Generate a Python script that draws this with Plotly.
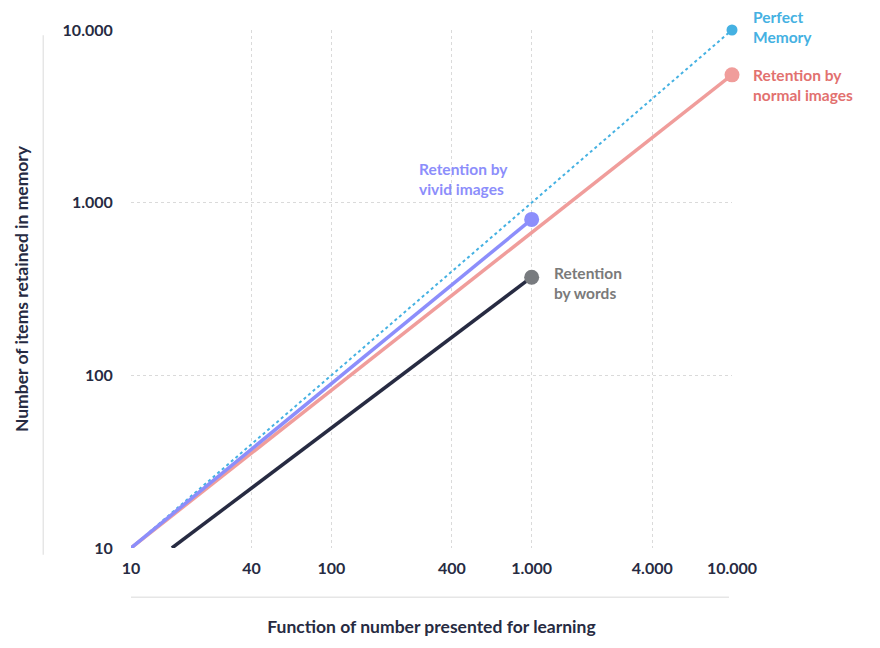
import math
import plotly.graph_objects as go

# ticks (values and the dotted-thousands labels used in the original)
x_ticks = [10, 40, 100, 400, 1000, 4000, 10000]
x_tick_labels = ["10", "40", "100", "400", "1.000", "4.000", "10.000"]
y_ticks = [10, 100, 1000, 10000]
y_tick_labels = ["10", "100", "1.000", "10.000"]

# series: number presented vs. number retained
perfect_x = [10, 10000]
perfect_y = [10, 10000]
normal_x = [10, 10000]
normal_y = [10, 5500]
vivid_x = [10, 1000]
vivid_y = [10, 800]
words_x = [16, 1000]
words_y = [10, 370]

DARK = "#272B42"
FONT = "Lato"

fig = go.Figure()


def add_series(xs, ys, color, width, size, dash="solid", marker_color=None):
    fig.add_scatter(
        x=xs, y=ys, mode="lines+markers",
        line=dict(color=color, width=width, dash=dash),
        marker=dict(size=[0, size], color=marker_color or color,
                    opacity=1, line=dict(width=0)),
        cliponaxis=False, hoverinfo="skip",
    )


add_series(perfect_x, perfect_y, "#45B1E2", 2, 11, dash="dot")
add_series(normal_x, normal_y, "#F09D9B", 3.5, 15)
add_series(vivid_x, vivid_y, "#8C8EFB", 3.5, 15)
add_series(words_x, words_y, DARK, 3.5, 15, marker_color="#787B7F")

label_font = dict(family=FONT, size=15.5, weight="bold")
labels = [
    # text, x, y, colour, anchor, xshift, yshift
    ("Perfect<br>Memory", perfect_x[-1], perfect_y[-1], "#45B1E2", "left", 19, 3),
    ("Retention by<br>normal images", normal_x[-1], normal_y[-1], "#E2716F", "left", 19, -10),
    ("Retention by<br>vivid images", vivid_x[-1], vivid_y[-1], "#8C8EFB", "right", -22, 40),
    ("Retention<br>by words", words_x[-1], words_y[-1], "#7A7A7A", "left", 20, -6),
]
for text, x, y, color, anchor, xs, ys in labels:
    # annotations on log axes take log10 positions
    fig.add_annotation(
        x=math.log10(x), y=math.log10(y), text=text, showarrow=False, align="left",
        xanchor=anchor, yanchor="middle", xshift=xs, yshift=ys,
        font=dict(label_font, color=color),
    )

# detached axis lines
fig.add_shape(type="line", xref="paper", yref="paper", x0=-0.146, x1=-0.146,
              y0=-0.013, y1=0.99, line=dict(color="#E6E6E6", width=1.5))
fig.add_shape(type="line", xref="paper", yref="paper", x0=0, x1=0.995,
              y0=-0.095, y1=-0.095, line=dict(color="#E6E6E6", width=1.5))

tick_font = dict(family=FONT, size=16, color=DARK, weight="bold")
title_font = dict(family=FONT, size=17.5, color=DARK, weight="bold")
# page body adds an 8px offset, so the figure is sized 8px smaller
fig.update_layout(
    width=872, height=640,
    margin=dict(l=123, r=148, t=22, b=100),
    plot_bgcolor="white", paper_bgcolor="white",
    showlegend=False,
    font=dict(family=FONT, color=DARK),
    xaxis=dict(
        type="log", range=[1, 4], automargin=False,
        tickvals=x_ticks, ticktext=x_tick_labels,
        tickfont=tick_font,
        showgrid=True, gridcolor="#DADADA", griddash="dot", gridwidth=1,
        zeroline=False, showline=False,
        ticks="outside", ticklen=6, tickcolor="rgba(0,0,0,0)",
        title=dict(text="Function of number presented for learning",
                   font=title_font, standoff=44),
    ),
    yaxis=dict(
        type="log", range=[1, 4], automargin=False,
        tickvals=y_ticks, ticktext=y_tick_labels,
        tickfont=tick_font,
        showgrid=True, gridcolor="#DADADA", griddash="dot", gridwidth=1,
        zeroline=False, showline=False,
        ticks="outside", ticklen=14, tickcolor="rgba(0,0,0,0)",
        title=dict(text="Number of items retained in memory",
                   font=title_font, standoff=29),
    ),
)

fig.write_html("out.html")
